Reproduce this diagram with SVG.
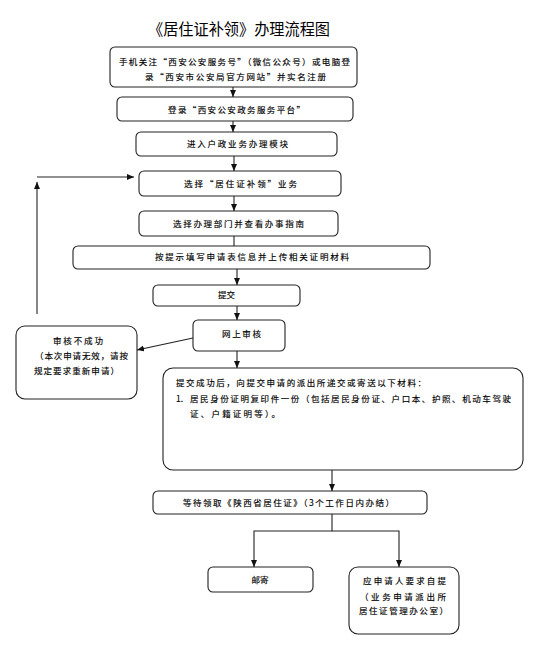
<svg xmlns="http://www.w3.org/2000/svg" width="533" height="659" viewBox="0 0 533 659">
<style>
.box{fill:#fff;stroke:#222;stroke-width:1.1}
.t{font-family:"Noto Sans CJK SC","Noto Sans",sans-serif;font-size:8.5px;fill:#000;stroke:#000;stroke-width:0.15}
.c{text-anchor:middle}
.title{font-family:"Noto Sans CJK SC","Noto Sans",sans-serif;font-size:16px;fill:#000}
.ln{fill:none;stroke:#222;stroke-width:1.1}
</style>
<defs>
<marker id="ah" markerUnits="userSpaceOnUse" markerWidth="8" markerHeight="8" viewBox="0 0 8 8" refX="7" refY="4" orient="auto">
<path d="M0,1 L7,4 L0,7 Z" fill="#111"/>
</marker>
</defs>
<rect width="533" height="659" fill="#fff"/>
<text class="title" x="148" y="35" textLength="182" lengthAdjust="spacingAndGlyphs">《居住证补领》办理流程图</text>

<g id="n1"><rect class="box" x="110" y="47" width="247" height="40" rx="5"/>
<text class="t" x="119" y="65" textLength="231">手机关注“西安公安服务号”（微信公众号）或电脑登</text>
<text class="t" x="145" y="80" textLength="181">录“西安市公安局官方网站”并实名注册</text></g>

<g id="n2"><rect class="box" x="117" y="97" width="236" height="24" rx="5"/>
<text class="t" x="168" y="113" textLength="137">登录“西安公安政务服务平台”</text></g>

<g id="n3"><rect class="box" x="136" y="132" width="201" height="24" rx="5"/>
<text class="t" x="187" y="147" textLength="101">进入户政业务办理模块</text></g>

<g id="n4"><rect class="box" x="139" y="171" width="202" height="25" rx="5"/>
<text class="t" x="184" y="187" textLength="113">选择“居住证补领”业务</text></g>

<g id="n5"><rect class="box" x="139" y="211" width="199" height="25" rx="5"/>
<text class="t" x="173" y="227" textLength="131">选择办理部门并查看办事指南</text></g>

<g id="n6"><rect class="box" x="73" y="246" width="357" height="23" rx="5"/>
<text class="t" x="155" y="260" textLength="194">按提示填写申请表信息并上传相关证明材料</text></g>

<g id="n7"><rect class="box" x="153" y="285" width="147" height="21" rx="5"/>
<text class="t" x="218" y="298" textLength="17">提交</text></g>

<g id="n8"><rect class="box" x="193" y="320" width="92" height="31" rx="5"/>
<text class="t" x="222" y="337" textLength="39">网上审核</text></g>

<g id="n9"><rect class="box" x="16" y="326" width="121" height="73" rx="9"/>
<text class="t" x="53" y="344" textLength="50">审核不成功</text>
<text class="t" x="35" y="359" textLength="93">（本次申请无效，请按</text>
<text class="t" x="34" y="374" textLength="85">规定要求重新申请）</text></g>

<g id="n10"><rect class="box" x="163" y="368" width="360" height="102" rx="10"/>
<text class="t" x="176" y="386" textLength="250">提交成功后，向提交申请的派出所递交或寄送以下材料：</text>
<text class="t" x="176" y="402">1.</text>
<text class="t" x="190" y="402" textLength="321">居民身份证明复印件一份（包括居民身份证、户口本、护照、机动车驾驶</text>
<text class="t" x="190" y="417" textLength="90">证、户籍证明等）。</text></g>

<g id="n11"><rect class="box" x="153" y="491" width="274" height="23" rx="5"/>
<text class="t" x="183" y="506" textLength="211">等待领取《陕西省居住证》（3个工作日内办结）</text></g>

<g id="n12"><rect class="box" x="208" y="567" width="105" height="25" rx="5"/>
<text class="t c" x="260" y="583">邮寄</text></g>

<g id="n13"><rect class="box" x="349" y="567" width="110" height="67" rx="9"/>
<text class="t" x="363" y="584" textLength="83">应申请人要求自提</text>
<text class="t" x="360" y="600" textLength="86">（业务申请派出所</text>
<text class="t" x="359" y="614" textLength="89">居住证管理办公室）</text></g>

<g id="connectors">
<line class="ln" x1="233" y1="87" x2="233" y2="97" marker-end="url(#ah)"/>
<line class="ln" x1="233" y1="121" x2="233" y2="132" marker-end="url(#ah)"/>
<line class="ln" x1="234" y1="156" x2="234" y2="171" marker-end="url(#ah)"/>
<line class="ln" x1="234" y1="196" x2="234" y2="211" marker-end="url(#ah)"/>
<line class="ln" x1="234" y1="236" x2="234" y2="246"/>
<line class="ln" x1="237" y1="269" x2="237" y2="285" marker-end="url(#ah)"/>
<line class="ln" x1="237" y1="306" x2="237" y2="320" marker-end="url(#ah)"/>
<line class="ln" x1="193" y1="338" x2="137" y2="350" marker-end="url(#ah)"/>
<line class="ln" x1="237" y1="351" x2="237" y2="368" marker-end="url(#ah)"/>
<line class="ln" x1="37" y1="314" x2="37" y2="182" marker-end="url(#ah)"/>
<line class="ln" x1="37" y1="177" x2="134" y2="177" marker-end="url(#ah)"/>
<line class="ln" x1="332" y1="470" x2="332" y2="491" marker-end="url(#ah)"/>
<polyline class="ln" points="332,514 332,531 254,531 254,567" marker-end="url(#ah)"/>
<polyline class="ln" points="332,531 399,531 399,567" marker-end="url(#ah)"/>
</g>
</svg>
